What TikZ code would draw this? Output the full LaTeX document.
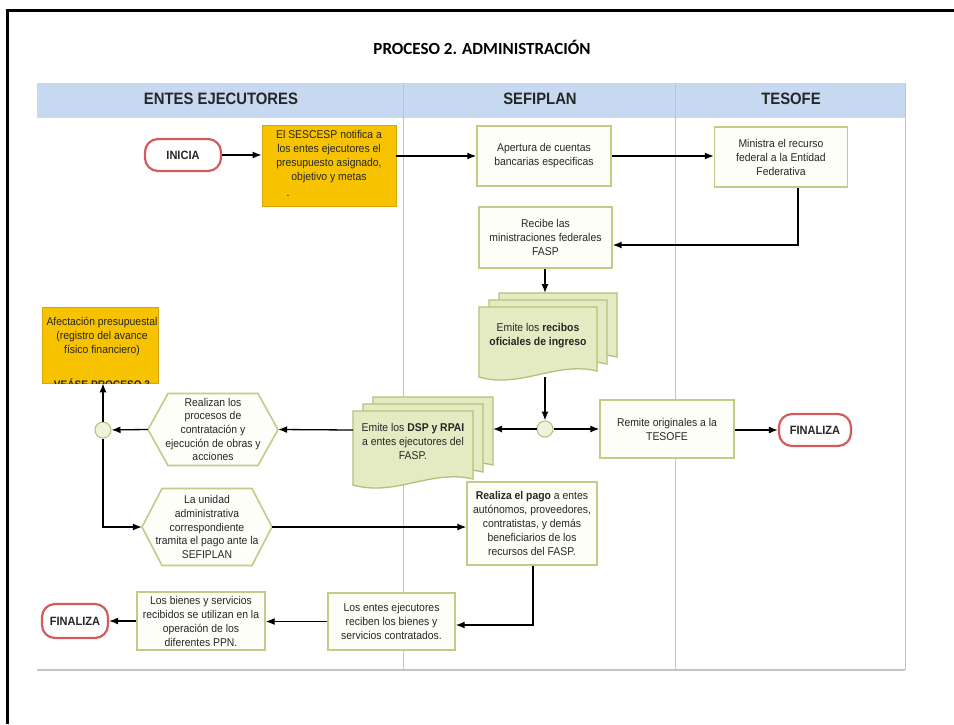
\documentclass[tikz,border=0pt]{standalone}
\usepackage{fontspec}
\setmainfont[FakeStretch=0.92]{Liberation Sans}
\newfontfamily\hdrfont[FakeStretch=0.9]{Liberation Sans}
\newfontfamily\titlefont{Carlito}
\usetikzlibrary{arrows.meta,calc}

\definecolor{hdr}{HTML}{C6D9F1}
\definecolor{lane}{HTML}{C4C4C4}
\definecolor{gold}{HTML}{F7C300}
\definecolor{goldbd}{HTML}{D9A800}
\definecolor{boxbd}{HTML}{C3CB86}
\definecolor{boxfill}{HTML}{FEFEF8}
\definecolor{docfill}{HTML}{E4EBC3}
\definecolor{docbd}{HTML}{B4C07A}
\definecolor{termbd}{HTML}{D25C5C}
\definecolor{txt}{HTML}{262626}

\newcommand\docshape[4]{\draw[docst] ({#3},{#2}) -- ({#1},{#2}) -- ({#1},{#4}) .. controls ({0.65*(#1)+0.35*(#3)},{(#4)+12}) and ({0.35*(#1)+0.65*(#3)},{(#4)-16}) .. ({#3},{(#4)-6}) -- cycle;}
\newcommand\docstack[4]{\docshape{#1+20}{#2-14}{#3+20}{#4-14}\docshape{#1+10}{#2-7}{#3+10}{#4-7}\docshape{#1}{#2}{#3}{#4}}
\newcommand\hexnode[6]{\draw[hexst] ({(#2)-(#4)/2},{#3}) -- ({(#2)-(#4)/2+20},{(#3)-(#5)/2}) -- ({(#2)+(#4)/2-20},{(#3)-(#5)/2}) -- ({(#2)+(#4)/2},{#3}) -- ({(#2)+(#4)/2-20},{(#3)+(#5)/2}) -- ({(#2)-(#4)/2+20},{(#3)+(#5)/2}) -- cycle;
\node[lbl, hexfont, minimum width=#4pt, minimum height=#5pt] (#1) at (#2,#3) {#6};}

\begin{document}
\begin{tikzpicture}[x=1pt,y=-1pt,
  font=\fontsize{11.3}{14}\selectfont,
  arr/.style={draw=black, line width=1.3pt, -{Latex[length=9pt,width=7pt]}},
  procbox/.style={draw=boxbd, fill=boxfill, line width=1.4pt, align=center, inner sep=2pt, text=txt},
  goldbox/.style={draw=goldbd, fill=gold, line width=0.8pt},
  term/.style={draw=termbd, fill=white, line width=2.2pt, rounded corners=13pt, font=\bfseries\fontsize{12}{14}\selectfont, text=txt},
  junc/.style={circle, draw=docbd, fill=docfill!60, line width=1pt, minimum size=16pt, inner sep=0pt},
  hexst/.style={draw=boxbd, fill=boxfill, line width=1.6pt},
  docst/.style={draw=docbd, fill=docfill, line width=1.3pt},
  hexfont/.style={font=\fontsize{11.3}{13.6}\selectfont},
  hdrtext/.style={font=\hdrfont\bfseries\fontsize{16.5}{19}\selectfont, text=black!85},
  lbl/.style={align=center, text=txt, inner sep=0pt}
]
\useasboundingbox (0,0) rectangle (954,724);
\fill[white] (0,0) rectangle (954,724);

% outer frame
\draw[line width=3pt] (7,724) -- (7,10) -- (954,10);

% title
\node (title) at (482,47) {\titlefont\bfseries\fontsize{17}{19}\selectfont PROCESO 2. ADMINISTRACIÓN};

% header and lanes
\fill[hdr] (37,83) rectangle (905,118);
\draw[lane, line width=1pt] (403,83) -- (403,670);
\draw[lane, line width=1pt] (675,83) -- (675,670);
\draw[lane, line width=1pt] (905,83) -- (905,670);
\draw[lane, line width=1.2pt] (37,670) -- (905,670);
\node[hdrtext] (h1) at (221,99) {ENTES EJECUTORES};
\node[hdrtext] (h2) at (540,99) {SEFIPLAN};
\node[hdrtext] (h3) at (791,99) {TESOFE};

% terminals
\node[term, minimum width=76pt, minimum height=32pt] (inicia) at (183,155) {INICIA};
\node[term, minimum width=72pt, minimum height=32pt] (finR) at (815,430) {FINALIZA};
\node[term, minimum width=66pt, minimum height=34pt] (finL) at (75,621) {FINALIZA};

% gold boxes
\node[goldbox, minimum width=134pt, minimum height=81pt] (sescesp) at (329,165.5) {};
\node[lbl] (sescesptxt) at (329,157) {El SESCESP notifica a\\los entes ejecutores el\\presupuesto asignado,\\objetivo y metas};
\node[lbl] (sescespdot) at (288,196) {.};

\node[goldbox, minimum width=116pt, minimum height=76pt] (afect) at (100,345) {};
\node[lbl] (afecttxt) at (102,337) {Afectación presupuestal\\(registro del avance\\físico financiero)};
\begin{scope}
\clip (afect.south west) rectangle (afect.north east);
\node[lbl, anchor=base, font=\bfseries\fontsize{11}{13}\selectfont] (veasetxt) at (102,388) {VEÁSE PROCESO 3};
\end{scope}

% process boxes
\node[procbox, minimum width=134pt, minimum height=60pt] (apertura) at (544,156) {Apertura de cuentas\\bancarias especificas};
\node[procbox, minimum width=133pt, minimum height=60pt] (ministra) at (781,157) {Ministra el recurso\\federal a la Entidad\\Federativa};
\node[procbox, minimum width=133pt, minimum height=61pt] (recibe) at (545.5,237.5) {Recibe las\\ministraciones federales\\FASP};
\node[procbox, minimum width=134pt, minimum height=58pt] (remite) at (667,429) {Remite originales a la\\TESOFE};
\node[procbox, minimum width=130pt, minimum height=83pt] (realiza) at (532,523.5) {\textbf{Realiza el pago} a entes\\autónomos, proveedores,\\contratistas, y demás\\beneficiarios de los\\recursos del FASP.};
\node[procbox, minimum width=127pt, minimum height=57pt] (losentes) at (391.5,621.5) {Los entes ejecutores\\reciben los bienes y\\servicios contratados.};
\node[procbox, minimum width=128pt, minimum height=58pt] (bienes) at (201,621) {Los bienes y servicios\\recibidos se utilizan en la\\operación de los\\diferentes PPN.};

% document stacks
\docstack{479}{307}{597}{377}
\node[lbl] (recibos) at (538,336) {Emite los \textbf{recibos}\\\textbf{oficiales de ingreso}};
\coordinate (recTop) at (545,293);
\coordinate (recBot) at (545,377);

\docstack{353}{411}{473}{485}
\node[lbl] (dsp) at (413,441) {Emite los \textbf{DSP y RPAI}\\a entes ejecutores del\\FASP.};
\coordinate (dspR) at (493,429);
\coordinate (dspL) at (353,430);

% hexagons
\hexnode{hexA}{213}{429.5}{130}{72}{Realizan los\\procesos de\\contratación y\\ejecución de obras y\\acciones}
\hexnode{hexB}{207}{527}{130}{77}{La unidad\\administrativa\\correspondiente\\tramita el pago ante la\\SEFIPLAN}

% junctions
\node[junc] (j1) at (545,429) {};
\node[junc] (j2) at (103,430) {};

% connectors
\draw[arr] (inicia) -- (sescesp.west |- inicia);
\draw[arr] (sescesp.east |- apertura) -- (apertura.west);
\draw[arr] (apertura.east) -- (apertura.east -| ministra.west);
\draw[arr] ([xshift=17pt]ministra.south) |- ([yshift=-7.5pt]recibe.east);
\draw[arr] (recibe.south -| recTop) -- (recTop);
\draw[arr] (recBot) -- (j1.north);
\draw[arr] (j1) -- (dspR);
\draw[arr] (j1) -- (remite.west |- j1);
\draw[arr] (remite.east |- finR) -- (finR);
\draw[arr] (dspL) -- (hexA.east);
\draw[arr] (hexA.west) -- (j2);
\draw[arr] (j2) -- (j2 |- afect.south);
\draw[arr] (j2.south) |- (hexB.west);
\draw[arr] (hexB.east) -- (hexB.east -| realiza.west);
\draw[arr] ([xshift=1pt]realiza.south) |- ([yshift=-3.5pt]losentes.east);
\draw[arr] (losentes.west) -- (losentes.west -| bienes.east);
\draw[arr] (bienes.west) -- (bienes.west -| finL.east);
\end{tikzpicture}
\end{document}
